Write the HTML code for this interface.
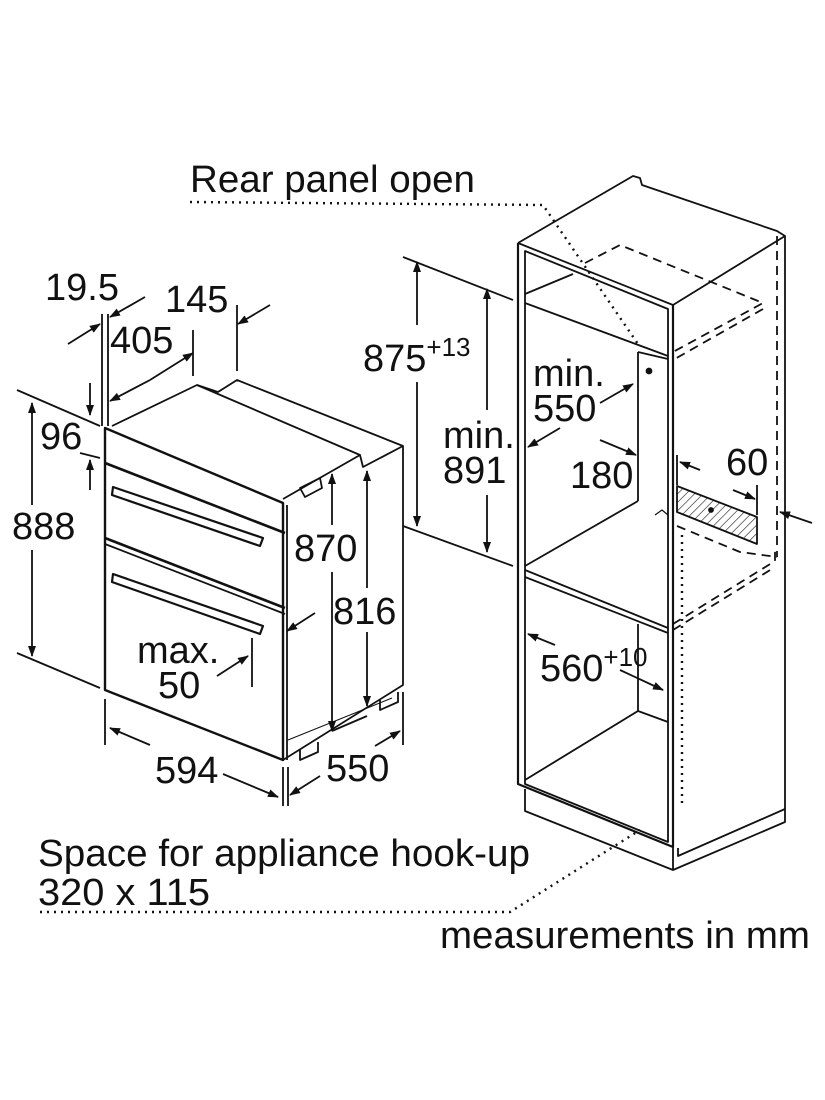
<!DOCTYPE html>
<html><head><meta charset="utf-8"><style>
html,body{margin:0;padding:0;background:#fff}
svg{display:block}
text{font-family:"Liberation Sans",Arial,sans-serif;font-size:38px;fill:#111}
</style></head><body>
<svg width="825" height="1100" viewBox="0 0 825 1100" xmlns="http://www.w3.org/2000/svg">
<defs>
<marker id="a" markerWidth="11" markerHeight="8" refX="10" refY="4" orient="auto" markerUnits="userSpaceOnUse"><path d="M0,0 L11,4 L0,8 z" fill="#111"/></marker>
<pattern id="h" width="6" height="6" patternUnits="userSpaceOnUse" patternTransform="rotate(45)"><line x1="0" y1="0" x2="0" y2="6" stroke="#111" stroke-width="1.2"/></pattern>
</defs>
<g fill="none" stroke="#111" stroke-width="1.8" stroke-linejoin="round">
<!-- OVEN -->
<path d="M105,428 L283,503 L283,760 L105,690 Z" stroke-width="2.4"/>
<path d="M112,426 L197,385 L218,392 L237,380 L403,446 L403,685 L283,760"/>
<path d="M283,499 L360,455 L363,467 L403,446"/>
<line x1="287" y1="505" x2="287" y2="760"/>
<line x1="197" y1="385" x2="360" y2="455"/>
<line x1="105" y1="463" x2="285" y2="533" stroke-width="2.6"/>
<line x1="105" y1="538" x2="285" y2="608" stroke-width="2.6"/>
<line x1="105" y1="544" x2="285" y2="614"/>
<path d="M113,487 L263,538 L260,546 L112,495 Z" stroke-width="2.2"/>
<path d="M113,574 L263,626 L260,634 L112,582 Z" stroke-width="2.2"/>
<path d="M300,488 L320,478 L322,488 L305,497 Z"/>
<path d="M300,750 L300,760 L318,752 L318,742"/>
<path d="M380,700 L380,710 L398,702 L398,692"/>
<!-- oven dims -->
<line x1="17" y1="390" x2="100" y2="426"/>
<line x1="17" y1="653" x2="100" y2="688"/>
<line x1="32" y1="505" x2="32" y2="403" marker-end="url(#a)"/>
<line x1="32" y1="550" x2="32" y2="656" marker-end="url(#a)"/>
<line x1="90" y1="383" x2="90" y2="415" marker-end="url(#a)"/>
<line x1="90" y1="490" x2="90" y2="460" marker-end="url(#a)"/>
<line x1="80" y1="453" x2="100" y2="458"/>
<line x1="102" y1="314" x2="102" y2="426"/>
<line x1="108" y1="314" x2="108" y2="426"/>
<line x1="68" y1="344" x2="100" y2="324" marker-end="url(#a)"/>
<line x1="145" y1="297" x2="110" y2="317" marker-end="url(#a)"/>
<line x1="150" y1="380" x2="110" y2="401" marker-end="url(#a)"/>
<line x1="150" y1="380" x2="193" y2="353" marker-end="url(#a)"/>
<line x1="193" y1="330" x2="193" y2="376"/>
<line x1="237" y1="305" x2="237" y2="371"/>
<line x1="270" y1="305" x2="238" y2="324" marker-end="url(#a)"/>
<line x1="332" y1="525" x2="332" y2="474" marker-end="url(#a)"/>
<line x1="332" y1="572" x2="332" y2="731" marker-end="url(#a)"/>
<line x1="367" y1="588" x2="367" y2="471" marker-end="url(#a)"/>
<line x1="367" y1="632" x2="367" y2="706" marker-end="url(#a)"/>
<line x1="332" y1="731" x2="367" y2="716"/>
<line x1="252" y1="638" x2="252" y2="687"/>
<line x1="217" y1="676" x2="248" y2="656" marker-end="url(#a)"/>
<line x1="315" y1="613" x2="287" y2="631" marker-end="url(#a)"/>
<line x1="105" y1="699" x2="105" y2="745"/>
<line x1="283" y1="767" x2="283" y2="806"/>
<line x1="288" y1="767" x2="288" y2="806"/>
<line x1="403" y1="692" x2="403" y2="745"/>
<line x1="150" y1="745" x2="110" y2="728" marker-end="url(#a)"/>
<line x1="223" y1="774" x2="278" y2="797" marker-end="url(#a)"/>
<line x1="320" y1="776" x2="290" y2="795" marker-end="url(#a)"/>
<line x1="375" y1="746" x2="400" y2="731" marker-end="url(#a)"/>
<line x1="288" y1="740" x2="392" y2="698" stroke-width="1"/>
<!-- CABINET -->
<path d="M518,243 L633,176 L640,178 L642,185 L777,231 L785,236 L673,305" />
<line x1="518" y1="243" x2="673" y2="305"/>
<path d="M518,243 L518,784 L673,847 L673,305" stroke-width="2.2"/>
<path d="M525,251 L668,309 L668,842 L525,784 Z"/>
<line x1="785" y1="236" x2="785" y2="809"/>
<path d="M785,809 L678,856 L678,848"/>
<path d="M525,789 L525,811 L673,870 L785,822 L785,809"/>
<line x1="673" y1="847" x2="673" y2="870"/>
<line x1="525" y1="303" x2="668" y2="356"/>
<line x1="525" y1="294" x2="573" y2="274"/>
<line x1="638" y1="352" x2="638" y2="501"/>
<line x1="638" y1="352" x2="668" y2="359"/>
<line x1="525" y1="566" x2="638" y2="501"/>
<line x1="525" y1="570" x2="668" y2="628"/>
<line x1="525" y1="577" x2="668" y2="633"/>
<line x1="638" y1="624" x2="638" y2="711"/>
<line x1="638" y1="711" x2="525" y2="780"/>
<line x1="638" y1="711" x2="668" y2="722"/>
<path d="M655,515 L662,510 L668,515" stroke-width="1.2"/>
<circle cx="649" cy="371" r="2.5" fill="#111"/>
<!-- dashed -->
<g stroke-dasharray="9,6">
<path d="M585,263 L620,245 L763,303 L673,352"/>
<path d="M763,309 L673,360"/>
<line x1="777" y1="236" x2="777" y2="557"/>
<path d="M673,624 L775,561 L775,550"/>
<path d="M673,630 L775,567"/>
<path d="M677,526 L740,552 L777,557"/>
</g>
<path d="M677,486 L757,517 L757,544 L677,512 Z" fill="url(#h)"/>
<circle cx="711" cy="510" r="2" fill="#111"/>
<!-- dotted -->
<g stroke-dasharray="2,5" stroke-width="2.4">
<path d="M190,202 L543,205 L640,347"/>
<line x1="682" y1="535" x2="682" y2="807"/>
<path d="M40,912 L510,912 L640,830"/>
</g>
<!-- cabinet dims -->
<line x1="403" y1="257" x2="513" y2="300"/>
<line x1="403" y1="526" x2="513" y2="566"/>
<line x1="417" y1="325" x2="417" y2="262" marker-end="url(#a)"/>
<line x1="417" y1="382" x2="417" y2="526" marker-end="url(#a)"/>
<line x1="487" y1="410" x2="487" y2="289" marker-end="url(#a)"/>
<line x1="487" y1="495" x2="487" y2="552" marker-end="url(#a)"/>
<line x1="600" y1="403" x2="633" y2="384" marker-end="url(#a)"/>
<line x1="560" y1="428" x2="528" y2="447" marker-end="url(#a)"/>
<line x1="600" y1="440" x2="636" y2="455" marker-end="url(#a)"/>
<line x1="677" y1="455" x2="677" y2="485"/>
<line x1="700" y1="470" x2="680" y2="462" marker-end="url(#a)"/>
<line x1="733" y1="490" x2="755" y2="499" marker-end="url(#a)"/>
<line x1="757" y1="485" x2="757" y2="515"/>
<line x1="812" y1="523" x2="780" y2="512" marker-end="url(#a)"/>
<line x1="555" y1="645" x2="528" y2="634" marker-end="url(#a)"/>
<line x1="620" y1="670" x2="663" y2="690" marker-end="url(#a)"/>
</g>
<g>
<text x="190" y="192" textLength="285" lengthAdjust="spacingAndGlyphs">Rear panel open</text>
<text x="45" y="300">19.5</text>
<text x="165" y="312">145</text>
<text x="110" y="353">405</text>
<text x="40" y="449">96</text>
<text x="12" y="539">888</text>
<text x="294" y="561">870</text>
<text x="333" y="624">816</text>
<text x="137" y="663">max.</text>
<text x="158" y="698">50</text>
<text x="155" y="783">594</text>
<text x="326" y="781">550</text>
<text x="363" y="371">875<tspan font-size="26" dy="-15">+13</tspan></text>
<text x="443" y="448">min.</text>
<text x="443" y="483">891</text>
<text x="533" y="386">min.</text>
<text x="533" y="421">550</text>
<text x="570" y="488">180</text>
<text x="726" y="475">60</text>
<text x="540" y="681">560<tspan font-size="26" dy="-15">+10</tspan></text>
<text x="38" y="866" textLength="492" lengthAdjust="spacingAndGlyphs">Space for appliance hook-up</text>
<text x="38" y="905" textLength="172" lengthAdjust="spacingAndGlyphs">320 x 115</text>
<text x="440" y="948" textLength="370" lengthAdjust="spacingAndGlyphs">measurements in mm</text>
</g>
</svg>
</body></html>
